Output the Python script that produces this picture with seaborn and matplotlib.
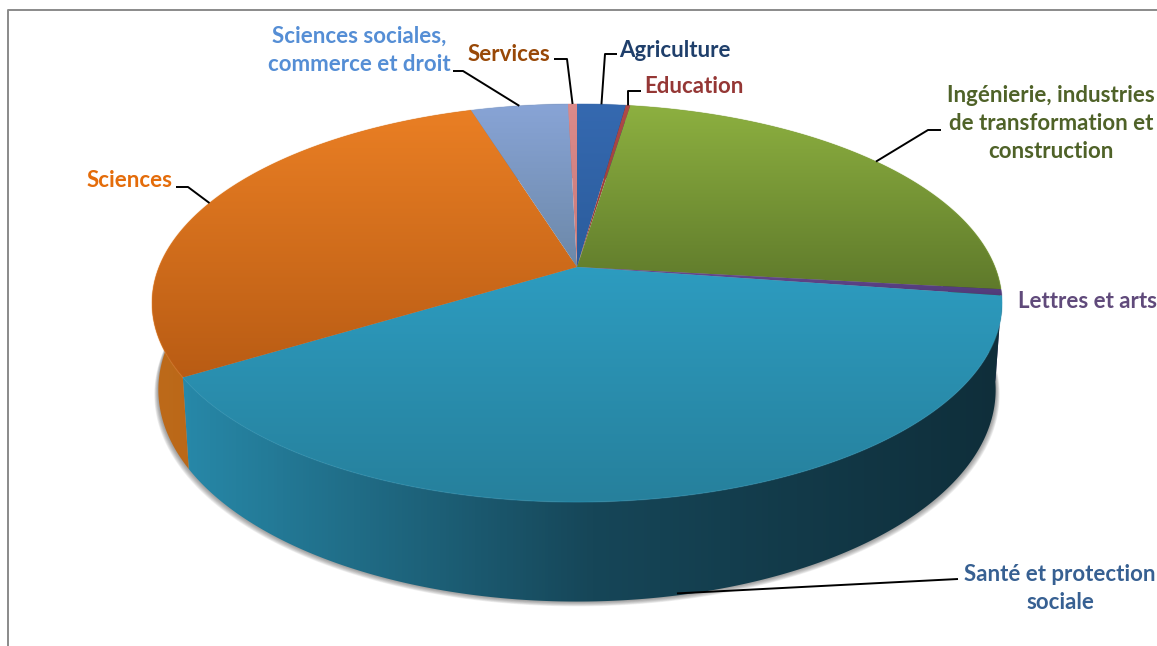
import numpy as np
import matplotlib.pyplot as plt
from matplotlib.patches import Polygon
import seaborn as sns

sns.set_theme(style='white')
plt.rcParams['font.family'] = ['Lato', 'DejaVu Sans']

categories = ['Agriculture', 'Education', 'Ingénierie, industries\nde transformation et\nconstruction',
              'Lettres et arts', 'Santé et protection\nsociale', 'Sciences',
              'Sciences sociales,\ncommerce et droit', 'Services']
values = [2.2, 0.2, 24.4, 0.5, 39.0, 28.9, 4.4, 0.4]

label_colors = ['#1f3f6b', '#953735', '#4f6228', '#604a7b', '#376092', '#e46c0a', '#558ed5', '#984807']
top_light = ['#3569b0', '#b04a48', '#8db040', '#6a4c94', '#2d9cc0', '#ea7f24', '#88a4d6', '#dc8a8a']
top_dark = ['#2b5c9c', '#8c3836', '#5f7a2b', '#4f3a78', '#26809c', '#b95c14', '#6c88a8', '#c87a7a']
wall_light = ['#2b5c9c', '#8c3836', '#5f7a2b', '#4f3a78', '#2788a8', '#bd6a1a', '#6c88a8', '#c87a7a']
wall_mid = ['#224a80', '#702c2a', '#4c6222', '#3f2e60', '#164658', '#b36212', '#566d86', '#a06262']
wall_dark = ['#1a3a64', '#5a2322', '#3a4c1a', '#32254c', '#0f2e3a', '#a85a12', '#44566a', '#804e4e']

# pie geometry on the page, in pixels (perspective disc)
CX, CY = 577, 267
A, B, K = 418, 192.5, 0.181
DROP = 84.4
BOTTOM_SCALE = 0.985


def project(theta, scale=1.0, drop=0.0):
    # theta in degrees, clockwise from the top of the pie
    t = np.radians(theta)
    u, v = np.sin(t), np.cos(t)
    w = 1 + K * v
    return CX + scale * A * u / w, CY + drop / w - scale * B * v / w


def arc(t0, t1, scale=1.0, drop=0.0):
    n = max(int(abs(t1 - t0) * 2), 4)
    return project(np.linspace(t0, t1, n), scale, drop)


def gradient_fill(ax, xs, ys, cmap, vertical, zorder):
    patch = Polygon(np.column_stack([xs, ys]), closed=True, facecolor='none', edgecolor='none', zorder=zorder)
    ax.add_patch(patch)
    g = np.linspace(0, 1, 256)
    g = g[:, None] if vertical else g[None, :]
    x0, x1 = np.min(xs), np.max(xs)
    y0, y1 = np.min(ys), np.max(ys)
    im = ax.imshow(g, cmap=cmap, extent=[x0, x1, y1, y0], aspect='auto', zorder=zorder, interpolation='bilinear')
    im.set_clip_path(patch)


fig = plt.figure(figsize=(11.57, 6.46), dpi=100)
ax = fig.add_axes([0, 0, 1, 1])

# slice limits from the values
edges = np.concatenate([[0], np.cumsum(values)]) * 3.6
mids = (edges[:-1] + edges[1:]) / 2

# soft shadow under the pie
for i in range(8, 0, -1):
    sx, sy = arc(60, 300, BOTTOM_SCALE, DROP)
    sx = CX + (sx - CX) * (1 + i * 0.0012)
    sy = sy + i * 0.6
    ax.fill(sx, sy, color='#555555', alpha=0.09, lw=0, zorder=1)

# outer wall of each slice
for i in range(len(values)):
    t0, t1 = edges[i], edges[i + 1]
    tx, ty = arc(t0, t1)
    bx, by = arc(t1, t0, BOTTOM_SCALE, DROP)
    cmap = sns.blend_palette([wall_light[i], wall_mid[i], wall_dark[i]], as_cmap=True)
    gradient_fill(ax, np.r_[tx, bx], np.r_[ty, by], cmap, False, 2)

# top face of each slice
for i in range(len(values)):
    t0, t1 = edges[i], edges[i + 1]
    tx, ty = arc(t0, t1)
    xs, ys = np.r_[CX, tx], np.r_[CY, ty]
    cmap = sns.blend_palette([top_light[i], top_dark[i]], as_cmap=True)
    gradient_fill(ax, xs, ys, cmap, True, 3)
    ax.plot(tx, ty, color=top_light[i], lw=1.0, alpha=0.35, zorder=4, solid_capstyle='butt')

# leader lines, anchored on the middle of each slice
elbows = {0: [(617, 54), (605, 54)], 1: [(641, 91), (628, 91)], 2: [(941, 130), (928, 130)],
          4: [(958, 579)], 5: [(176, 187), (188, 187)], 6: [(453, 71), (463, 71)],
          7: [(554, 59), (567, 59)]}
for i, pts in elbows.items():
    drop = DROP * 0.98 if i == 4 else 0.0
    ex, ey = project(mids[i], BOTTOM_SCALE if i == 4 else 1.0, drop)
    lx = [p[0] for p in pts] + [ex]
    ly = [p[1] for p in pts] + [ey]
    ax.plot(lx, ly, color='black', lw=1.4, zorder=5, solid_capstyle='butt')

# labels
label_xy = [(675, 50.5), (694, 86.5), (1051, 123.5), (1087, 301.5), (1060, 588.5), (130, 180.5), (359, 50.5), (509, 54.5)]
for name, col, (x, y) in zip(categories, label_colors, label_xy):
    ax.text(x, y, name, color=col, fontsize=16, fontweight='bold', ha='center', va='center',
            linespacing=1.44, zorder=6)

# chart frame
ax.plot([8, 8, 1157], [646, 9.5, 9.5], color='#8a8a8a', lw=1.4, zorder=0)

ax.set_xlim(0, 1157)
ax.set_ylim(646, 0)
ax.axis('off')
fig.savefig('out.png', dpi=100, facecolor='white')
